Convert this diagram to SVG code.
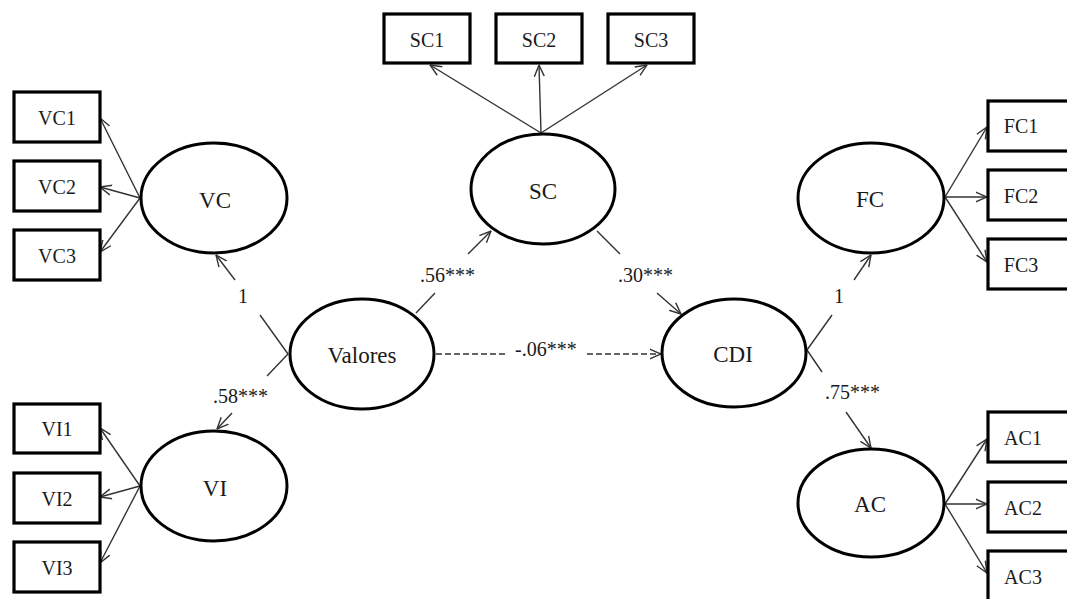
<svg xmlns="http://www.w3.org/2000/svg" width="1067" height="599" viewBox="0 0 1067 599" font-family="'Liberation Serif', 'DejaVu Serif', serif">
<style>
  .box { fill: #fff; stroke: #000; stroke-width: 3.2; }
  .lat { fill: #fff; stroke: #000; stroke-width: 3; }
  text { font-family: 'Liberation Serif', 'DejaVu Serif', serif; fill: #1a1a1a; }
  .t { text-anchor: middle; }
  .obs { font-size: 20px; }
  .lv { font-size: 23px; }
  .lab { font-size: 20px; }
  .c { fill: none; stroke: #333; stroke-width: 1.4; }
  .arr { marker-end: url(#ah); }
  .dash { stroke-dasharray: 6 3; }
</style>
<defs>
  <marker id="ah" markerUnits="userSpaceOnUse" viewBox="0 0 12 12" refX="11.5" refY="6" markerWidth="12" markerHeight="12" orient="auto">
    <path d="M0,1 L11.5,6 L0,11" fill="none" stroke="#333" stroke-width="1.4"/>
  </marker>
</defs>
<rect width="1067" height="599" fill="#fff"/>

<g id="connectors">
  <line class="c arr" x1="140" y1="198" x2="100" y2="118"/>
  <line class="c arr" x1="140" y1="198" x2="100" y2="187"/>
  <line class="c arr" x1="140" y1="198" x2="100" y2="252"/>
  <line class="c arr" x1="140" y1="486" x2="100" y2="428"/>
  <line class="c arr" x1="140" y1="486" x2="100" y2="497"/>
  <line class="c arr" x1="140" y1="486" x2="100" y2="563"/>
  <line class="c arr" x1="541" y1="133" x2="430" y2="65"/>
  <line class="c arr" x1="541" y1="133" x2="539" y2="65"/>
  <line class="c arr" x1="541" y1="133" x2="647" y2="65"/>
  <line class="c arr" x1="945" y1="197" x2="987" y2="127"/>
  <line class="c arr" x1="945" y1="197" x2="987" y2="197"/>
  <line class="c arr" x1="945" y1="197" x2="987" y2="262"/>
  <line class="c arr" x1="945" y1="504" x2="987" y2="439"/>
  <line class="c arr" x1="945" y1="504" x2="987" y2="504"/>
  <line class="c arr" x1="945" y1="504" x2="987" y2="573"/>
  <line class="c" x1="288" y1="354" x2="260" y2="315"/>
  <line class="c arr" x1="235" y1="280" x2="216" y2="255"/>
  <line class="c" x1="288" y1="354" x2="267" y2="376"/>
  <line class="c arr" x1="232" y1="413" x2="217" y2="429"/>
  <line class="c" x1="416" y1="313" x2="435" y2="293"/>
  <line class="c arr" x1="468" y1="254" x2="491" y2="231"/>
  <line class="c" x1="597" y1="231" x2="620" y2="254"/>
  <line class="c arr" x1="657" y1="293" x2="681" y2="314"/>
  <line class="c dash" x1="436" y1="354" x2="505" y2="354"/>
  <line class="c dash arr" x1="587" y1="354" x2="661" y2="354"/>
  <line class="c" x1="807" y1="350" x2="832" y2="315"/>
  <line class="c arr" x1="854" y1="280" x2="871" y2="255"/>
  <line class="c" x1="807" y1="350" x2="822" y2="372"/>
  <line class="c arr" x1="846" y1="412" x2="871" y2="448"/>
</g>

<g id="labels">
  <text class="lab" x="243" y="303" text-anchor="middle">1</text>
  <text class="lab" x="213" y="403">.58***</text>
  <text class="lab" x="420" y="282">.56***</text>
  <text class="lab" x="618" y="282">.30***</text>
  <text class="lab" x="515" y="356">-.06***</text>
  <text class="lab" x="839" y="303" text-anchor="middle">1</text>
  <text class="lab" x="825" y="399">.75***</text>
</g>

<g id="VC1"><rect class="box" x="14" y="92" width="86" height="50"/><text class="t obs" x="57" y="125">VC1</text></g>
<g id="VC2"><rect class="box" x="14" y="161" width="86" height="50"/><text class="t obs" x="57" y="194">VC2</text></g>
<g id="VC3"><rect class="box" x="14" y="230" width="86" height="50"/><text class="t obs" x="57" y="263">VC3</text></g>
<g id="VI1"><rect class="box" x="14" y="404" width="86" height="49"/><text class="t obs" x="57" y="436">VI1</text></g>
<g id="VI2"><rect class="box" x="14" y="473" width="86" height="50"/><text class="t obs" x="57" y="506">VI2</text></g>
<g id="VI3"><rect class="box" x="14" y="542" width="86" height="50"/><text class="t obs" x="57" y="575">VI3</text></g>
<g id="SC1"><rect class="box" x="384" y="14" width="86" height="49"/><text class="t obs" x="427" y="47">SC1</text></g>
<g id="SC2"><rect class="box" x="496" y="14" width="86" height="49"/><text class="t obs" x="539" y="47">SC2</text></g>
<g id="SC3"><rect class="box" x="608" y="14" width="86" height="49"/><text class="t obs" x="651" y="47">SC3</text></g>
<g id="FC1"><rect class="box" x="988" y="101" width="90" height="50"/><text class="t obs" x="1021" y="133">FC1</text></g>
<g id="FC2"><rect class="box" x="988" y="170" width="90" height="50"/><text class="t obs" x="1021" y="203">FC2</text></g>
<g id="FC3"><rect class="box" x="988" y="239" width="90" height="50"/><text class="t obs" x="1021" y="272">FC3</text></g>
<g id="AC1"><rect class="box" x="988" y="412" width="90" height="50"/><text class="t obs" x="1023" y="445">AC1</text></g>
<g id="AC2"><rect class="box" x="988" y="482" width="90" height="50"/><text class="t obs" x="1023" y="515">AC2</text></g>
<g id="AC3"><rect class="box" x="988" y="551" width="90" height="50"/><text class="t obs" x="1023" y="584">AC3</text></g>

<g id="VC"><ellipse class="lat" cx="214" cy="198" rx="73" ry="55"/><text class="t lv" x="215" y="208">VC</text></g>
<g id="VI"><ellipse class="lat" cx="214" cy="486" rx="73" ry="55"/><text class="t lv" x="215" y="496">VI</text></g>
<g id="SC"><ellipse class="lat" cx="543" cy="189" rx="72" ry="55"/><text class="t lv" x="543" y="199">SC</text></g>
<g id="Valores"><ellipse class="lat" cx="362" cy="354" rx="72" ry="55"/><text class="t lv" x="362" y="363">Valores</text></g>
<g id="CDI"><ellipse class="lat" cx="734" cy="353" rx="72" ry="54"/><text class="t lv" x="733" y="362">CDI</text></g>
<g id="FC"><ellipse class="lat" cx="871" cy="198" rx="73" ry="55"/><text class="t lv" x="870" y="207">FC</text></g>
<g id="AC"><ellipse class="lat" cx="871" cy="503" rx="73" ry="54"/><text class="t lv" x="870" y="512">AC</text></g>
</svg>
